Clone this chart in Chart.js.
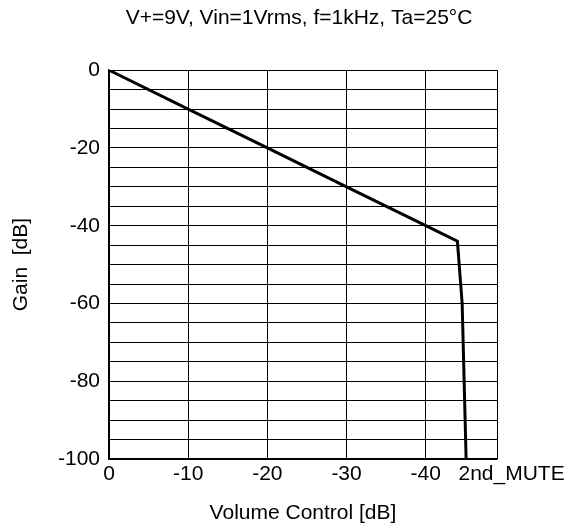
<!DOCTYPE html>
<html>
<head>
<meta charset="utf-8">
<script src="https://cdn.jsdelivr.net/npm/chart.js@4"></script>
<style>
  html, body { margin: 0; padding: 0; background: #fff; }
  #wrap { width: 579px; height: 529px; }
</style>
</head>
<body>
<div id="wrap"><canvas id="gainChart"></canvas></div>
<script>
const volumeControl = [0, -10, -20, -30, -40, -44, -44.6, -45.1];
const gain = [0, -10, -20, -30, -40, -44, -60, -100];
const xTicks = [0, -10, -20, -30, -40, -49];
const xTickLabels = ["0", "-10", "-20", "-30", "-40", "     2nd_MUTE"];
const yLabelStep = 20;

const font = "'Liberation Sans', Arial, sans-serif";
const ctx = document.getElementById("gainChart");

new Chart(ctx, {
  type: "line",
  data: {
    datasets: [
      {
        label: "Gain",
        data: volumeControl.map((v, i) => ({ x: v, y: gain[i] })),
        borderColor: "#000",
        borderWidth: 3,
        pointRadius: 0,
        tension: 0,
      },
    ],
  },
  options: {
    responsive: true,
    maintainAspectRatio: false,
    animation: false,
    layout: { padding: { left: 19, right: 0, top: 0, bottom: 0 } },
    plugins: {
      legend: { display: false },
      tooltip: { enabled: false },
      title: {
        display: true,
        text: "V+=9V, Vin=1Vrms, f=1kHz, Ta=25°C",
        color: "#000",
        font: { family: font, size: 21, weight: "normal" },
        padding: { top: 6, bottom: 39 },
      },
    },
    scales: {
      x: {
        type: "linear",
        reverse: true,
        min: -49,
        max: 0,
        afterBuildTicks: (scale) => {
          scale.ticks = xTicks.map((v) => ({ value: v }));
        },
        afterFit: (scale) => {
          scale.height = 70;
        },
        ticks: {
          autoSkip: false,
          maxRotation: 0,
          color: "#000",
          padding: 3,
          font: { family: font, size: 21 },
          callback: (value) => xTickLabels[xTicks.indexOf(value)],
        },
        grid: { color: "#000", lineWidth: 1, drawTicks: false },
        border: { color: "#000", width: 1.5 },
        title: {
          display: true,
          text: "Volume Control [dB]",
          color: "#000",
          font: { family: font, size: 21 },
          padding: { top: 0, bottom: 3 },
        },
      },
      y: {
        min: -100,
        max: 0,
        afterFit: (scale) => {
          scale.width = 90;
        },
        ticks: {
          stepSize: 5,
          maxTicksLimit: 30,
          autoSkip: false,
          color: "#000",
          padding: 9,
          font: { family: font, size: 21 },
          callback: (value) => (value % yLabelStep === 0 ? String(value) : ""),
        },
        grid: { color: "#000", lineWidth: 1, drawTicks: false },
        border: { color: "#000", width: 1.5 },
        title: {
          display: true,
          text: "Gain  [dB]",
          color: "#000",
          font: { family: font, size: 21 },
          padding: { top: -10, bottom: 0 },
        },
      },
      yRight: {
        position: "right",
        min: -100,
        max: 0,
        afterFit: (scale) => {
          scale.width = 82;
        },
        ticks: { display: false },
        grid: { display: false },
        border: { display: false },
      },
    },
  },
});
</script>
</body>
</html>
